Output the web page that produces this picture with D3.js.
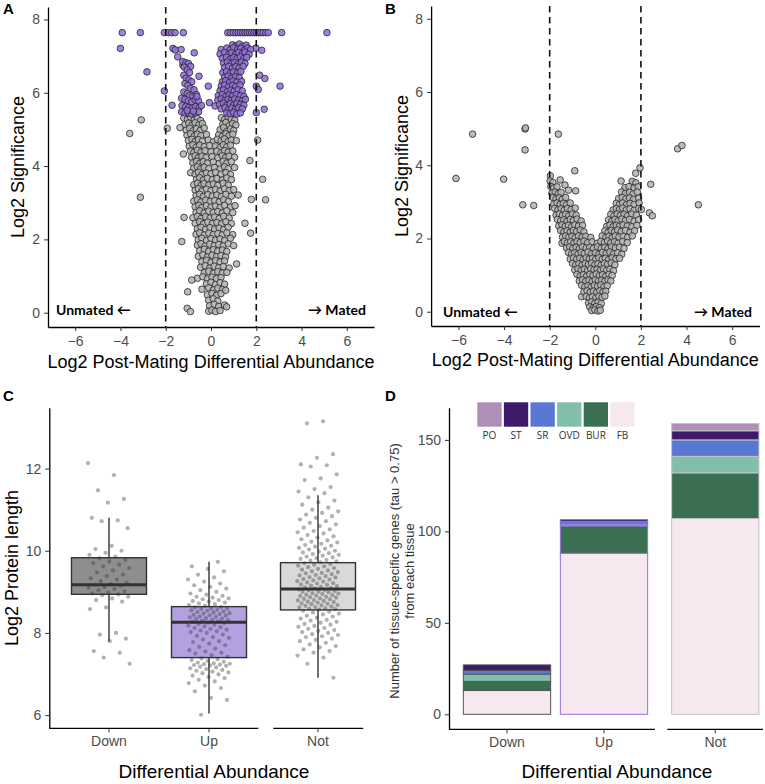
<!DOCTYPE html>
<html><head><meta charset="utf-8">
<script src="https://cdn.jsdelivr.net/npm/d3@7"></script>
<style>body{margin:0;background:#fff}svg{display:block}text{font-family:"Liberation Sans",Arial,sans-serif}</style>
</head><body><svg id="c" width="765" height="784"></svg>
<script>
// ---------- Panel A data: [log2 fold change, log2 significance] ----------
const aGray = [
[-1.2,5.31],[-1.04,5.27],[-0.9,5.33],[-0.74,5.26],[-0.6,5.3],[-0.46,5.24],[0.46,5.32],[0.6,5.27],[0.76,5.34],[0.9,5.28],[1.05,5.25],
[-1.16,5.13],[-0.98,5.17],[-0.84,5.11],[-0.7,5.18],[-0.54,5.12],[-0.38,5.16],[0.52,5.14],[0.66,5.19],[0.8,5.1],[0.96,5.16],[1.1,5.12],
[-1.1,4.98],[-0.94,5.03],[-0.8,4.96],[-0.64,5.02],[-0.48,4.97],[-0.3,5.04],[0.4,4.99],[0.56,5.05],[0.7,4.95],[0.86,5.01],[1.0,4.97],
[-1.06,4.84],[-0.9,4.88],[-0.74,4.82],[-0.6,4.87],[-0.44,4.83],[-0.2,4.86],[0.34,4.85],[0.5,4.81],[0.66,4.88],[0.8,4.83],[0.96,4.87],
[-1.0,4.7],[-0.84,4.73],[-0.7,4.67],[-0.55,4.72],[-0.38,4.68],[-0.12,4.71],[0.1,4.66],[0.28,4.73],[0.45,4.69],[0.6,4.74],[0.76,4.67],[0.9,4.71],[1.12,4.69],
[-0.96,4.54],[-0.8,4.58],[-0.64,4.52],[-0.5,4.57],[-0.3,4.53],[-0.06,4.56],[0.2,4.55],[0.4,4.51],[0.54,4.58],[0.7,4.53],[0.86,4.57],
[-1.22,4.33],[-0.9,4.41],[-0.76,4.37],[-0.6,4.43],[-0.44,4.38],[-0.26,4.42],[0.0,4.39],[0.26,4.41],[0.44,4.36],[0.6,4.42],[0.76,4.38],[0.96,4.41],
[-0.86,4.24],[-0.7,4.28],[-0.56,4.22],[-0.4,4.27],[-0.22,4.23],[0.05,4.26],[0.3,4.22],[0.5,4.28],[0.64,4.23],[0.8,4.27],[1.04,4.24],
[-0.8,4.09],[-0.64,4.13],[-0.5,4.07],[-0.34,4.12],[-0.16,4.08],[0.1,4.11],[0.36,4.07],[0.54,4.13],[0.7,4.08],[0.9,4.12],
[-0.76,3.94],[-0.6,3.98],[-0.46,3.92],[-0.3,3.97],[-0.1,3.93],[0.16,3.96],[0.4,3.92],[0.6,3.98],[0.76,3.93],[1.04,3.96],
[-0.9,3.82],[-0.7,3.78],[-0.56,3.83],[-0.4,3.77],[-0.2,3.81],[0.0,3.79],[0.2,3.83],[0.44,3.78],[0.66,3.82],[0.86,3.77],
[-0.64,3.64],[-0.5,3.68],[-0.34,3.62],[-0.16,3.67],[0.06,3.63],[0.26,3.66],[0.5,3.62],[0.7,3.68],[0.9,3.63],
[-0.76,3.49],[-0.6,3.53],[-0.44,3.47],[-0.3,3.52],[-0.1,3.48],[0.1,3.51],[0.3,3.47],[0.54,3.53],[0.76,3.48],
[-0.7,3.34],[-0.56,3.38],[-0.4,3.32],[-0.2,3.37],[0.0,3.33],[0.2,3.36],[0.4,3.32],[0.6,3.38],[0.8,3.33],[1.0,3.36],
[-0.66,3.19],[-0.5,3.23],[-0.34,3.17],[-0.14,3.22],[0.06,3.18],[0.26,3.21],[0.46,3.17],[0.66,3.23],[0.9,3.18],[1.2,3.21],
[-0.76,3.04],[-0.6,3.08],[-0.44,3.02],[-0.24,3.07],[-0.04,3.03],[0.16,3.06],[0.36,3.02],[0.56,3.08],[0.76,3.03],
[-0.7,2.89],[-0.54,2.93],[-0.4,2.87],[-0.2,2.92],[0.0,2.88],[0.2,2.91],[0.4,2.87],[0.6,2.93],[0.86,2.88],[1.06,2.92],
[-0.66,2.74],[-0.5,2.78],[-0.3,2.72],[-0.1,2.77],[0.1,2.73],[0.3,2.76],[0.5,2.72],[0.7,2.78],[0.96,2.73],
[-0.8,2.59],[-0.6,2.63],[-0.44,2.57],[-0.24,2.62],[-0.04,2.58],[0.16,2.61],[0.36,2.57],[0.56,2.63],[0.8,2.58],
[-0.7,2.44],[-0.5,2.48],[-0.34,2.42],[-0.14,2.47],[0.06,2.43],[0.26,2.46],[0.46,2.42],[0.66,2.48],[0.9,2.43],
[-0.6,2.29],[-0.44,2.33],[-0.24,2.27],[-0.04,2.32],[0.16,2.28],[0.36,2.31],[0.56,2.27],[0.76,2.33],
[-0.66,2.14],[-0.5,2.18],[-0.3,2.12],[-0.1,2.17],[0.1,2.13],[0.3,2.16],[0.5,2.12],[0.7,2.18],[0.96,2.13],
[-0.56,1.99],[-0.4,2.03],[-0.2,1.97],[0.0,2.02],[0.2,1.98],[0.4,2.01],[0.6,1.97],[0.86,2.03],
[-0.6,1.84],[-0.44,1.88],[-0.26,1.82],[-0.06,1.87],[0.14,1.83],[0.34,1.86],[0.54,1.82],[0.76,1.88],[1.0,1.83],
[-0.5,1.69],[-0.3,1.73],[-0.1,1.67],[0.1,1.72],[0.3,1.68],[0.5,1.71],[0.7,1.67],
[-0.56,1.54],[-0.36,1.58],[-0.16,1.52],[0.04,1.57],[0.24,1.53],[0.44,1.56],[0.64,1.52],
[-0.4,1.39],[-0.2,1.43],[0.0,1.37],[0.2,1.42],[0.4,1.38],[0.6,1.41],
[-0.46,1.24],[-0.26,1.28],[-0.06,1.22],[0.14,1.27],[0.34,1.23],[0.54,1.26],[0.8,1.22],
[-0.3,1.09],[-0.1,1.13],[0.1,1.07],[0.3,1.12],[0.5,1.08],
[-0.6,0.94],[-0.36,0.98],[-0.16,0.92],[0.04,0.97],[0.24,0.93],[0.44,0.96],
[-0.2,0.79],[0.0,0.83],[0.2,0.77],[0.4,0.82],[0.6,0.78],
[-0.4,0.64],[-0.1,0.68],[0.1,0.62],[0.3,0.67],[0.5,0.63],
[-0.16,0.49],[0.04,0.53],[0.24,0.47],[0.44,0.52],
[-0.1,0.34],[0.1,0.38],[0.3,0.32],
[-0.06,0.19],[0.14,0.23],[0.34,0.17],[0.6,0.21],
[-0.1,0.04],[0.04,0.07],[0.2,0.03],[0.4,0.06],
[-3.59,4.89],[-3.08,5.26],[-3.12,3.15],[-1.93,5.03],[-1.37,5.05],[2.06,4.71],[1.72,4.15],[2.28,3.64],[2.41,3.08],[1.78,3.09],[1.5,2.44],[1.75,2.17],[1.13,1.33],[-1.29,1.94],[-1.19,2.6],[-1.03,0.57],[-0.85,0.89],[-1.05,0.12],[-0.91,0.03],[0.69,0.16],[0.65,0.61],[0.7,1.1]
];
const aPurple = [
[-3.92,7.64],[-3.12,7.64],[-2.06,7.64],[-1.88,7.64],[-1.74,7.64],[-1.59,7.64],[-1.22,7.64],[0.74,7.64],[0.86,7.64],[0.98,7.64],[1.1,7.64],[1.2,7.64],[1.3,7.64],[1.4,7.64],[1.5,7.64],[1.6,7.64],[1.7,7.64],[1.8,7.64],[1.9,7.64],[2.0,7.64],[2.1,7.64],[2.2,7.64],[2.3,7.64],[2.42,7.64],[2.53,7.64],[3.12,7.64],[5.12,7.64],
[-4.0,7.21],[-2.83,6.57],[-2.06,6.05],[-1.72,5.66],[-1.68,7.21],[-1.58,7.17],[-1.32,7.18],[-1.47,6.98],[-0.74,7.09],[-1.24,6.75],[-0.53,6.45],[-0.12,6.18],[-0.07,5.73],[0.18,5.64],[2.15,6.48],[2.38,6.39],[2.0,6.18],[2.09,6.09],[3.05,6.18],[2.35,5.55],[2.0,5.46],[2.24,7.16],[1.98,7.22],
[-1.25,6.85],[-1.12,6.82],[-1.0,6.8],[-0.9,6.72],[-1.18,6.7],[-1.05,6.62],[-0.95,6.55],[-1.2,6.48],[-1.1,6.4],[-0.98,6.35],[-0.85,6.3],[-1.15,6.25],[-1.02,6.2],[-0.9,6.12],[-0.75,6.08],[-1.2,6.02],[-1.05,5.98],[-0.95,5.92],[-0.8,5.9],[-0.65,5.95],[-1.3,5.85],[-1.15,5.82],[-1.0,5.78],[-0.85,5.75],[-0.7,5.8],[-0.55,5.78],[-1.28,5.65],[-1.12,5.62],[-0.98,5.6],[-0.82,5.58],[-0.68,5.62],[-0.52,5.6],[-0.42,5.65],[-1.3,5.48],[-1.15,5.45],[-1.0,5.45],[-0.85,5.42],[-0.7,5.45],[-0.55,5.48],[-0.62,5.9],[-1.05,5.52],[-0.78,5.5],
[0.95,7.31],[1.1,7.28],[1.25,7.33],[1.4,7.27],[1.55,7.3],
[0.45,7.18],[0.7,7.22],[0.85,7.17],[1.0,7.23],[1.18,7.19],[1.32,7.21],[1.48,7.16],[1.62,7.22],[1.75,7.18],
[0.4,7.06],[0.6,7.1],[0.78,7.05],[0.92,7.09],[1.08,7.04],[1.22,7.1],[1.38,7.06],[1.5,7.11],[1.68,7.05],
[0.5,6.94],[0.68,6.97],[0.85,6.92],[1.0,6.96],[1.15,6.93],[1.3,6.98],[1.45,6.94],[1.58,6.97],
[0.55,6.81],[0.72,6.84],[0.9,6.8],[1.05,6.83],[1.2,6.79],[1.35,6.84],[1.5,6.8],
[0.6,6.69],[0.78,6.72],[0.95,6.67],[1.1,6.71],[1.25,6.68],[1.42,6.72],
[0.52,6.55],[0.68,6.58],[0.85,6.53],[1.0,6.57],[1.18,6.54],[1.32,6.58],
[0.6,6.42],[0.75,6.45],[0.92,6.4],[1.08,6.44],[1.25,6.41],
[0.5,6.3],[0.65,6.33],[0.82,6.28],[0.98,6.32],[1.15,6.29],[1.35,6.31],
[0.45,6.18],[0.6,6.21],[0.78,6.16],[0.95,6.2],[1.1,6.17],[1.28,6.21],
[0.4,6.05],[0.55,6.08],[0.72,6.03],[0.88,6.07],[1.02,6.04],[1.2,6.08],[1.38,6.05],
[0.32,5.92],[0.5,5.95],[0.65,5.9],[0.8,5.94],[0.95,5.91],[1.12,5.95],[1.3,5.92],[1.45,5.9],
[0.3,5.8],[0.45,5.83],[0.6,5.78],[0.75,5.82],[0.9,5.79],[1.05,5.83],[1.22,5.8],[1.38,5.78],[1.52,5.82],
[0.38,5.68],[0.55,5.71],[0.7,5.66],[0.85,5.7],[1.0,5.67],[1.15,5.71],[1.3,5.68],[1.45,5.66],
[0.45,5.56],[0.62,5.59],[0.78,5.54],[0.92,5.58],[1.08,5.55],[1.22,5.59],[1.38,5.56],
[0.7,5.45],[0.85,5.43],[1.0,5.46],[1.15,5.42],[1.3,5.45]
];
// ---------- Panel B data ----------
const bGray = [
[-6.11,3.64],[-5.38,4.85],[-4.02,3.62],[-3.08,4.99],[-3.06,5.02],[-3.08,4.42],[-1.62,4.85],[-0.9,3.85],[-1.97,3.71],[1.96,3.93],[1.77,3.78],[2.43,3.48],[3.61,4.45],[3.8,4.54],[1.13,3.57],[1.64,3.51],[-3.18,2.92],[-2.7,2.9],[4.52,2.92],[2.37,2.7],[2.5,2.62],[-1.46,1.87],[-0.6,0.41],
[-1.54,3.6],[-1.33,3.46],[-1.18,3.32],[-0.86,3.3],[1.3,3.32],[1.52,3.1],
[-1.98,3.57],[-1.86,3.53],[1.62,3.56],[1.78,3.52],
[-1.95,3.42],[-1.82,3.38],[-1.68,3.41],[1.3,3.39],[1.48,3.42],[1.7,3.38],[1.88,3.41],
[-1.9,3.24],[-1.76,3.27],[-1.62,3.23],[-1.5,3.26],[1.15,3.27],[1.32,3.23],[1.5,3.26],[1.66,3.22],[1.84,3.27],
[-1.86,3.12],[-1.72,3.08],[-1.58,3.11],[-1.44,3.07],[-1.3,3.12],[1.02,3.09],[1.18,3.12],[1.34,3.08],[1.5,3.11],[1.68,3.07],[1.9,3.1],
[-1.82,2.94],[-1.68,2.97],[-1.54,2.93],[-1.4,2.96],[-1.26,2.92],[-1.1,2.97],[0.92,2.96],[1.06,2.93],[1.2,2.97],[1.36,2.92],[1.52,2.96],[1.7,2.93],[1.92,2.97],
[-1.78,2.82],[-1.64,2.78],[-1.5,2.81],[-1.36,2.77],[-1.22,2.82],[-1.06,2.79],[-0.88,2.83],[0.78,2.78],[0.92,2.82],[1.06,2.79],[1.2,2.83],[1.36,2.78],[1.52,2.81],[1.7,2.77],[1.9,2.82],[2.02,2.79],
[-1.72,2.64],[-1.58,2.67],[-1.44,2.63],[-1.3,2.66],[-1.16,2.62],[-1.0,2.67],[-0.84,2.64],[0.68,2.66],[0.82,2.62],[0.96,2.67],[1.1,2.63],[1.26,2.66],[1.42,2.62],[1.6,2.67],[1.8,2.64],
[-1.66,2.52],[-1.52,2.48],[-1.38,2.51],[-1.24,2.47],[-1.1,2.52],[-0.96,2.49],[-0.8,2.53],[-0.62,2.48],[0.58,2.51],[0.72,2.47],[0.86,2.52],[1.0,2.48],[1.16,2.53],[1.32,2.49],[1.5,2.52],[1.7,2.47],[1.9,2.51],
[-1.6,2.34],[-1.46,2.37],[-1.32,2.33],[-1.18,2.36],[-1.04,2.32],[-0.9,2.37],[-0.74,2.34],[-0.56,2.36],[0.5,2.33],[0.64,2.37],[0.78,2.32],[0.92,2.36],[1.06,2.33],[1.22,2.37],[1.4,2.34],[1.6,2.32],[1.82,2.36],
[-1.52,2.22],[-1.38,2.18],[-1.24,2.21],[-1.1,2.17],[-0.96,2.22],[-0.82,2.19],[-0.66,2.23],[-0.5,2.18],[0.42,2.21],[0.56,2.17],[0.7,2.22],[0.84,2.18],[0.98,2.23],[1.14,2.19],[1.32,2.22],[1.52,2.17],[1.72,2.21],
[-1.44,2.04],[-1.3,2.07],[-1.16,2.03],[-1.02,2.06],[-0.88,2.02],[-0.74,2.07],[-0.58,2.04],[-0.42,2.06],[-0.2,2.03],[0.3,2.07],[0.46,2.03],[0.6,2.06],[0.74,2.02],[0.88,2.07],[1.04,2.04],[1.22,2.06],[1.42,2.03],[1.62,2.07],
[-1.36,1.92],[-1.22,1.88],[-1.08,1.91],[-0.94,1.87],[-0.8,1.92],[-0.66,1.89],[-0.5,1.93],[-0.34,1.88],[-0.14,1.91],[0.08,1.87],[0.24,1.92],[0.4,1.89],[0.54,1.93],[0.68,1.88],[0.84,1.91],[1.0,1.87],[1.2,1.92],[1.4,1.89],
[-1.26,1.74],[-1.12,1.77],[-0.98,1.73],[-0.84,1.76],[-0.7,1.72],[-0.56,1.77],[-0.4,1.74],[-0.24,1.76],[-0.08,1.73],[0.1,1.77],[0.26,1.73],[0.42,1.76],[0.56,1.72],[0.72,1.77],[0.88,1.74],[1.06,1.76],[1.26,1.73],
[-1.18,1.62],[-1.04,1.58],[-0.9,1.61],[-0.76,1.57],[-0.62,1.62],[-0.48,1.59],[-0.32,1.63],[-0.16,1.58],[0.0,1.61],[0.16,1.57],[0.32,1.62],[0.48,1.59],[0.64,1.63],[0.8,1.58],[0.98,1.61],[1.16,1.57],
[-1.1,1.44],[-0.96,1.47],[-0.82,1.43],[-0.68,1.46],[-0.54,1.42],[-0.4,1.47],[-0.26,1.44],[-0.12,1.46],[0.02,1.43],[0.16,1.47],[0.3,1.43],[0.44,1.46],[0.58,1.42],[0.74,1.47],[0.9,1.44],[1.06,1.46],
[-1.0,1.32],[-0.86,1.28],[-0.72,1.31],[-0.58,1.27],[-0.44,1.32],[-0.3,1.29],[-0.16,1.33],[-0.02,1.28],[0.12,1.31],[0.26,1.27],[0.4,1.32],[0.54,1.29],[0.7,1.33],[0.86,1.28],
[-0.9,1.14],[-0.76,1.17],[-0.62,1.13],[-0.48,1.16],[-0.34,1.12],[-0.2,1.17],[-0.06,1.14],[0.08,1.16],[0.22,1.13],[0.36,1.17],[0.5,1.13],[0.64,1.16],[0.8,1.12],
[-0.8,1.02],[-0.66,0.98],[-0.52,1.01],[-0.38,0.97],[-0.24,1.02],[-0.1,0.99],[0.04,1.03],[0.18,0.98],[0.32,1.01],[0.46,0.97],[0.6,1.02],[0.74,0.99],
[-0.7,0.84],[-0.56,0.87],[-0.42,0.83],[-0.28,0.86],[-0.14,0.82],[0.0,0.87],[0.14,0.84],[0.28,0.86],[0.42,0.83],[0.56,0.87],[0.68,0.84],
[-0.6,0.72],[-0.46,0.68],[-0.32,0.71],[-0.18,0.67],[-0.04,0.72],[0.1,0.69],[0.24,0.73],[0.38,0.68],[0.52,0.71],
[-0.5,0.54],[-0.36,0.57],[-0.22,0.53],[-0.08,0.56],[0.06,0.52],[0.2,0.57],[0.34,0.54],[0.46,0.56],
[-0.4,0.42],[-0.26,0.38],[-0.12,0.41],[0.02,0.37],[0.16,0.42],[0.3,0.39],[0.42,0.43],
[-0.3,0.24],[-0.16,0.27],[-0.02,0.23],[0.12,0.26],[0.26,0.22],
[-0.24,0.13],[-0.1,0.1],[0.04,0.14],[0.18,0.11],
[-0.16,0.03],[-0.02,0.05],[0.12,0.02],[0.22,0.04]
];
const volXTicks = [-6,-4,-2,0,2,4,6];
const volYTicks = [0,2,4,6,8];
const foldCutoffs = [-2,2];

// ---------- Panel C data ----------
const cCats = ["Down","Up","Not"];
const cQ1 = [8.94,7.40,8.56], cMed = [9.17,8.26,9.07], cQ3 = [9.83,8.64,9.71], cLo = [7.80,6.04,6.91], cHi = [10.80,9.73,11.35];
const cFill = ["#8e8e8e","#b3a1df","#d9d9d9"];
const cDown = [12.13,11.84,11.47,11.26,11.17,10.8,10.74,10.72,10.55,10.12,10.04,10.0,9.95,9.9,9.86,9.82,9.78,9.74,9.7,9.66,9.62,9.58,9.52,9.47,9.42,9.38,9.33,9.3,9.26,9.22,9.19,9.17,9.15,9.12,9.1,9.07,9.04,9.01,8.98,8.96,8.94,8.92,8.88,8.84,8.8,8.76,8.62,8.58,8.0,7.96,7.86,7.8,7.56,7.52,7.4,7.25];
const cUp = [6.01,6.37,6.42,6.58,6.66,6.72,6.78,6.82,6.86,6.9,6.93,6.96,6.99,7.02,7.04,7.06,7.08,7.1,7.12,7.14,7.16,7.18,7.2,7.21,7.22,7.23,7.24,7.25,7.26,7.28,7.3,7.32,7.34,7.36,7.38,
7.42,7.46,7.5,7.52,7.55,7.58,7.62,7.66,7.7,7.74,7.78,7.8,7.84,7.88,7.9,7.93,7.96,8.0,8.02,8.04,8.06,8.08,8.1,8.12,8.14,8.16,8.18,8.2,8.22,8.24,8.25,
8.27,8.28,8.3,8.31,8.32,8.34,8.35,8.36,8.38,8.39,8.4,8.42,8.43,8.44,8.46,8.47,8.48,8.5,8.51,8.52,8.54,8.55,8.56,8.58,8.59,8.6,8.62,8.63,
8.66,8.68,8.7,8.72,8.74,8.76,8.78,8.8,8.82,8.84,8.86,8.88,8.9,8.93,8.96,9.0,9.04,9.08,9.12,9.16,9.2,9.25,9.3,9.35,9.42,9.5,9.56,9.62,9.73];
const cNot = [13.15,13.1,12.35,12.26,12.1,12.08,12.05,11.86,11.76,11.72,11.55,11.5,11.44,11.4,
11.3,11.22,11.18,11.12,11.05,11.0,10.96,10.92,10.88,10.84,10.8,10.76,10.72,10.68,10.64,10.6,10.56,10.52,10.48,10.45,10.42,10.38,10.35,10.32,10.28,10.25,10.22,10.2,10.17,10.14,10.12,10.1,10.07,10.05,10.03,10.0,9.98,9.96,9.94,9.92,9.9,9.88,9.86,9.84,9.82,9.8,9.78,9.76,9.74,9.72,
9.7,9.68,9.66,9.64,9.62,9.6,9.58,9.56,9.54,9.52,9.5,9.48,9.46,9.45,9.43,9.41,9.4,9.38,9.36,9.35,9.33,9.31,9.3,9.28,9.26,9.25,9.23,9.21,9.2,9.18,9.17,9.15,9.14,9.12,9.11,9.09,9.08,
9.06,9.05,9.04,9.02,9.01,9.0,8.99,8.97,8.96,8.95,8.93,8.92,8.91,8.9,8.88,8.87,8.86,8.84,8.83,8.82,8.8,8.79,8.78,8.76,8.75,8.74,8.72,8.71,8.7,8.68,8.67,8.66,8.64,8.63,8.62,8.6,8.59,8.58,8.57,
8.54,8.52,8.5,8.47,8.45,8.42,8.4,8.37,8.35,8.32,8.3,8.27,8.25,8.22,8.2,8.17,8.15,8.12,8.1,8.07,8.05,8.02,8.0,7.97,7.95,7.92,7.9,7.86,7.83,7.8,7.76,7.72,7.68,7.65,7.6,7.56,7.52,7.45,7.4,7.25,6.91];
const cYTicks = [6,8,10,12];

// ---------- Panel D data ----------
const dCats = ["Down","Up","Not"];
const tissues = ["PO","ST","SR","OVD","BUR","FB"];
const tissueColors = ["#ad8fb8","#3d1a6a","#5978d4","#82bfab","#3b6f52","#f7e8f0"];
const dFB = [13,88,107], dBUR = [5,15,25], dOVD = [4,1,9], dSR = [2,1.5,9], dST = [3,1,5], dPO = [0,0,4];
const dStroke = ["#555555","#9370db","#c4c4c4"];
const dYTicks = [0,50,100,150];

// ================== drawing ==================
const svg = d3.select("#c");
const TICK_COL = "#4d4d4d";
function styleAxis(sel, fs){
  sel.select(".domain").attr("stroke","#000").attr("stroke-width",1.3);
  sel.selectAll(".tick line").attr("stroke","#333").attr("stroke-width",1);
  sel.selectAll(".tick text").attr("fill",TICK_COL).style("font-size",(fs||14)+"px").style("font-family","'Liberation Sans',Arial,sans-serif");
}
function letter(t,x,y){ svg.append("text").attr("x",x).attr("y",y).text(t).style("font-weight","bold").style("font-size","15px"); }

function volcano(o){
  const x = d3.scaleLinear().domain([-7.2,7.2]).range(o.xr);
  const y = d3.scaleLinear().domain(o.yd).range(o.yr);
  const g = svg.append("g");
  o.sets.forEach(s=>{
    g.append("g").selectAll("circle").data(s.data).join("circle")
      .attr("cx",d=>x(d[0])).attr("cy",d=>y(d[1])).attr("r",3.3)
      .attr("fill",s.fill).attr("fill-opacity",0.88).attr("stroke","#262626").attr("stroke-width",0.8);
  });
  g.selectAll("line.cut").data(foldCutoffs).join("line").attr("class","cut")
    .attr("x1",d=>x(d)).attr("x2",d=>x(d)).attr("y1",o.yr[1]).attr("y2",o.yr[0])
    .attr("stroke","#111").attr("stroke-width",1.6).attr("stroke-dasharray","6.5,4.5");
  const ax = g.append("g").attr("transform",`translate(0,${o.yr[0]})`)
    .call(d3.axisBottom(x).tickValues(volXTicks).tickSize(4).tickPadding(5).tickSizeOuter(0));
  styleAxis(ax,14);
  const ay = g.append("g").attr("transform",`translate(${o.xr[0]},0)`)
    .call(d3.axisLeft(y).tickValues(volYTicks).tickSize(4).tickPadding(4).tickSizeOuter(0));
  styleAxis(ay,14);
  g.append("text").attr("x",(o.xr[0]+o.xr[1])/2).attr("y",o.xTitleY).attr("text-anchor","middle")
    .style("font-size","18px").text("Log2 Post-Mating Differential Abundance");
  g.append("text").attr("transform",`translate(${o.yTitleX},${(o.yr[0]+o.yr[1])/2}) rotate(-90)`).attr("text-anchor","middle")
    .style("font-size","18px").text("Log2 Significance");
  g.append("text").attr("x",o.unX).attr("y",o.annY).style("font-family","Lato,'Open Sans',sans-serif").style("font-weight","bold").style("font-size","14px").text("Unmated \u2190");
  g.append("text").attr("x",o.maX).attr("y",o.annY).attr("text-anchor","end").style("font-family","Lato,'Open Sans',sans-serif").style("font-weight","bold").style("font-size","14px").text("\u2192 Mated");
}

volcano({xr:[48,374], yd:[-0.39,8.34], yr:[327,7], sets:[{data:aGray,fill:"#b4b4b4"},{data:aPurple,fill:"#9370DB"}],
  xTitleY:368, yTitleX:24, unX:56, maX:366, annY:315});
volcano({xr:[431.1,759.5], yd:[-0.39,8.35], yr:[326,6], sets:[{data:bGray,fill:"#b4b4b4"}],
  xTitleY:366, yTitleX:408, unX:443, maX:752, annY:317});
letter("A",3,14); letter("B",385,14);

// ---------- Panel C ----------
(function(){
  const y = d3.scaleLinear().domain([5.68,13.48]).range([728.3,407.7]);
  const x1 = d3.scaleBand().domain(cCats.slice(0,2)).range([59,259]).paddingInner(0.25).paddingOuter(0.125);
  const x2 = d3.scaleBand().domain(cCats.slice(2)).range([268,368]).paddingInner(0.25).paddingOuter(0.125);
  const xs = c => (x1.domain().includes(c)? x1 : x2);
  const g = svg.append("g");
  const series = [cDown,cUp,cNot];
  cCats.forEach((c,i)=>{
    const sc = xs(c), x0 = sc(c), w = sc.bandwidth(), cx = x0+w/2;
    g.append("line").attr("x1",cx).attr("x2",cx).attr("y1",y(cHi[i])).attr("y2",y(cQ3[i])).attr("stroke","#333").attr("stroke-width",1.4);
    g.append("line").attr("x1",cx).attr("x2",cx).attr("y1",y(cQ1[i])).attr("y2",y(cLo[i])).attr("stroke","#333").attr("stroke-width",1.4);
    g.append("rect").attr("x",x0).attr("width",w).attr("y",y(cQ3[i])).attr("height",y(cQ1[i])-y(cQ3[i]))
      .attr("fill",cFill[i]).attr("stroke","#333").attr("stroke-width",1.4);
    g.append("line").attr("x1",x0).attr("x2",x0+w).attr("y1",y(cMed[i])).attr("y2",y(cMed[i])).attr("stroke","#333").attr("stroke-width",3);
    const step = sc.step();
    g.append("g").selectAll("circle").data(series[i]).join("circle")
      .attr("cx",(d,j)=>cx + (((j*0.6180339887+0.31*i)%1)-0.5)*0.42*step)
      .attr("cy",d=>y(d)).attr("r",2.1).attr("fill","#333").attr("fill-opacity",0.38);
  });
  const ay = g.append("g").attr("transform","translate(49.3,0)").call(d3.axisLeft(y).tickValues(cYTicks).tickSize(4).tickPadding(4).tickSizeOuter(0));
  styleAxis(ay,14);
  [[x1,49.3,258.3],[x2,273.3,363.3]].forEach(([sc,a,b])=>{
    const ax = g.append("g").attr("transform","translate(0,728.3)").call(d3.axisBottom(sc).tickSize(4).tickPadding(4).tickSizeOuter(0));
    styleAxis(ax,14); ax.select(".domain").remove();
    g.append("line").attr("x1",a).attr("x2",b).attr("y1",728.3).attr("y2",728.3).attr("stroke","#000").attr("stroke-width",1.3);
  });
  g.append("text").attr("x",214).attr("y",778).attr("text-anchor","middle").style("font-size","19px").text("Differential Abundance");
  g.append("text").attr("transform","translate(18,568) rotate(-90)").attr("text-anchor","middle").style("font-size","18px").text("Log2 Protein length");
})();
letter("C",3,401);

// ---------- Panel D ----------
(function(){
  const y = d3.scaleLinear().domain([-8.2,167.6]).range([729.3,407.7]);
  const x1 = d3.scaleBand().domain(dCats.slice(0,2)).range([458.5,652.5]).paddingInner(0.1).paddingOuter(0.05);
  const x2 = d3.scaleBand().domain(dCats.slice(2)).range([666.8,763.8]).paddingInner(0.1).paddingOuter(0.05);
  const xs = c => (x1.domain().includes(c)? x1 : x2);
  const vals = {PO:dPO,ST:dST,SR:dSR,OVD:dOVD,BUR:dBUR,FB:dFB};
  const rows = dCats.map((c,i)=>{const r={cat:c}; tissues.forEach(t=>r[t]=vals[t][i]); return r;});
  const order = tissues.slice().reverse(); // FB at the bottom
  const stack = d3.stack().keys(order)(rows);
  const g = svg.append("g");
  stack.forEach(layer=>{
    const ti = tissues.indexOf(layer.key);
    g.append("g").selectAll("rect").data(layer).join("rect")
      .attr("x",d=>xs(d.data.cat)(d.data.cat)).attr("width",d=>xs(d.data.cat).bandwidth())
      .attr("y",d=>y(d[1])).attr("height",d=>Math.max(0,y(d[0])-y(d[1])))
      .attr("fill",tissueColors[ti])
      .attr("stroke",d=>dStroke[dCats.indexOf(d.data.cat)]).attr("stroke-width",d=>d[1]>d[0]?1:0);
  });
  const ay = g.append("g").attr("transform","translate(449,0)").call(d3.axisLeft(y).tickValues(dYTicks).tickSize(4).tickPadding(4).tickSizeOuter(0));
  styleAxis(ay,14);
  [[x1,449,655],[x2,667.3,763]].forEach(([sc,a,b])=>{
    const ax = g.append("g").attr("transform","translate(0,729.3)").call(d3.axisBottom(sc).tickSize(4).tickPadding(4).tickSizeOuter(0));
    styleAxis(ax,14); ax.select(".domain").remove();
    g.append("line").attr("x1",a).attr("x2",b).attr("y1",729.3).attr("y2",729.3).attr("stroke","#000").attr("stroke-width",1.3);
  });
  const lg = g.append("g");
  tissues.forEach((t,i)=>{
    const lx = 477.3 + i*26.6;
    lg.append("rect").attr("x",lx).attr("y",402.3).attr("width",24.3).attr("height",24.4).attr("fill",tissueColors[i]);
    lg.append("text").attr("x",lx+12.15).attr("y",439).attr("text-anchor","middle").style("font-family","'Open Sans',sans-serif").style("font-size","10px").attr("fill","#333").text(t);
  });
  g.append("text").attr("x",617).attr("y",778).attr("text-anchor","middle").style("font-size","19px").text("Differential Abundance");
  g.append("text").attr("transform","translate(399,571) rotate(-90)").attr("text-anchor","middle").style("font-size","13px").attr("fill","#333").text("Number of tissue-specific genes (tau > 0.75)");
  g.append("text").attr("transform","translate(414,571) rotate(-90)").attr("text-anchor","middle").style("font-size","13px").attr("fill","#333").text("from each tissue");
})();
letter("D",385,401);
</script></body></html>
